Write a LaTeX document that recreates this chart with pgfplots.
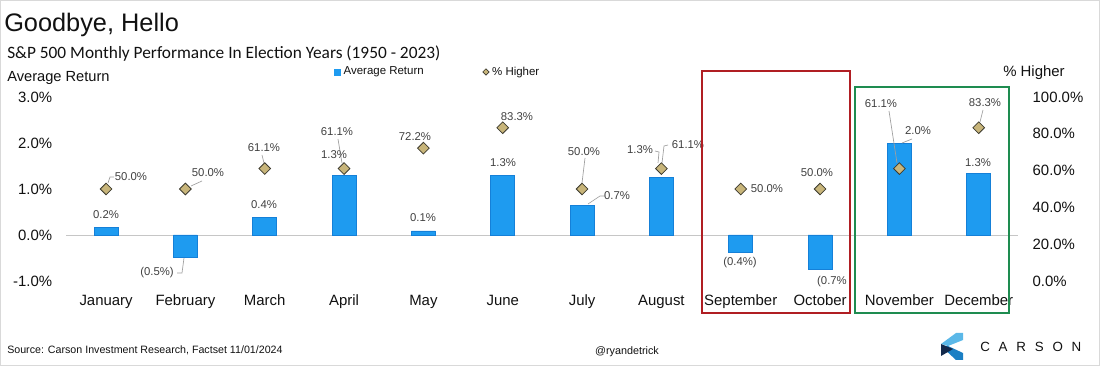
\documentclass[border=0pt]{standalone}
\usepackage{pgfplots}
\pgfplotsset{compat=1.18}
\usepackage{fontspec}
\setmainfont{Liberation Sans}
\newfontfamily\calib{Carlito}
\definecolor{barblue}{HTML}{1E9BF0}
\definecolor{baredge}{HTML}{1580D8}
\definecolor{diamfill}{HTML}{C8B57A}
\definecolor{diamedge}{HTML}{3C3A2E}
\definecolor{lbl}{HTML}{404040}
\definecolor{txt}{HTML}{111111}
\definecolor{redbox}{HTML}{B01E23}
\definecolor{greenbox}{HTML}{1E8C50}
\definecolor{logolight}{HTML}{5BB8E8}
\definecolor{logomid}{HTML}{1A7FC4}
\definecolor{logodark}{HTML}{13294B}
\begin{document}
\begin{tikzpicture}[x=0.75pt,y=-0.75pt,
  lab/.style={font=\fontsize{8.5}{10}\selectfont, text=lbl, inner sep=0pt},
  lead/.style={draw=gray!75, line width=0.5pt}]
\path[use as bounding box] (0,0) rectangle (1100,366);
\draw[gray!30, line width=0.75pt] (0.4,0.4) rectangle (1099.6,365.6);

\begin{axis}[at={(49.8pt,-210.75pt)}, anchor=south west, scale only axis,
  width=714pt, height=138pt,
  xmin=-0.5, xmax=11.5, ymin=-1, ymax=3,
  axis line style={draw=none}, major tick length=0pt,
  xtick={0,...,11},
  xticklabels={January,February,March,April,May,June,July,August,September,October,November,December},
  ytick={-1,0,1,2,3},
  yticklabel={\pgfmathprintnumber[fixed,fixed zerofill,precision=1,assume math mode=true]{\tick}\%},
  tick label style={font=\fontsize{11.2}{13}\selectfont, text=txt, inner sep=0pt},
  yticklabel style={anchor=east, xshift=-10.5pt},
  xticklabel style={anchor=base, yshift=-18.4pt},
  legend style={at={(0.281,1.136)}, anchor=west, draw=none, fill=none, inner sep=0pt,
    font=\fontsize{8.6}{10}\selectfont, text=txt,
    /tikz/every even column/.append style={column sep=42pt}},
  legend columns=2, legend cell align=left,
  clip=false]
\draw[gray!45, line width=0.6pt] (axis cs:-0.5,0) -- (axis cs:11.5,0);
\addplot[ybar, bar width=18pt, bar shift=0pt, fill=barblue, draw=baredge, line width=0.5pt,
  legend image code/.code={\fill[barblue] (0pt,-2.3pt) rectangle (4.6pt,2.3pt);}]
  coordinates {(0,0.17)(1,-0.48)(2,0.39)(3,1.30)(4,0.09)(5,1.30)(6,0.65)(7,1.26)(8,-0.37)(9,-0.74)(10,2.00)(11,1.33)};
\addlegendentry{Average Return}
\addlegendimage{legend image code/.code={\draw[diamedge, fill=diamfill, line width=0.5pt] (0pt,0pt)--(2.4pt,2.4pt)--(4.8pt,0pt)--(2.4pt,-2.4pt)--cycle;}}
\addlegendentry{\% Higher}
\end{axis}

\begin{axis}[at={(49.8pt,-210.75pt)}, anchor=south west, scale only axis,
  width=714pt, height=138pt,
  xmin=-0.5, xmax=11.5, ymin=0, ymax=100,
  axis line style={draw=none}, major tick length=0pt,
  xtick=\empty, ytick={0,20,...,100}, yticklabel pos=right,
  yticklabel={\pgfmathprintnumber[fixed,fixed zerofill,precision=1,assume math mode=true]{\tick}\%},
  tick label style={font=\fontsize{11.2}{13}\selectfont, text=txt, inner sep=0pt},
  yticklabel style={anchor=west, xshift=10.5pt},
  clip=false]
\addplot[only marks, mark=square*, mark size=3.1pt,
  mark options={rotate=45, fill=diamfill, draw=diamedge, line width=0.6pt}]
  coordinates {(0,50.0)(1,50.0)(2,61.1)(3,61.1)(4,72.2)(5,83.3)(6,50.0)(7,61.1)(8,50.0)(9,50.0)(10,61.1)(11,83.3)};
\end{axis}

% leader lines
\draw[lead] (108,183)--(110,177)--(114,177);
\draw[lead] (184,258)--(182,273)--(177,273);
\draw[lead] (191,186)--(202,181);
\draw[lead] (262,155)--(264,163);
\draw[lead] (338,139)--(342,163);
\draw[lead] (585,158)--(582,183);
\draw[lead] (588,204)--(600,196)--(605,196);
\draw[lead] (658,163)--(659,152)--(655,151);
\draw[lead] (662,163)--(664,146)--(668,145);
\draw[lead] (889,111)--(897,163);
\draw[lead] (902,143)--(912,139);
\draw[lead] (983,110)--(980,122);

% data labels
\node[lab] at (106,215) {0.2\%};
\node[lab] at (131,177) {50.0\%};
\node[lab] at (157,273) {(0.5\%)};
\node[lab] at (208,173) {50.0\%};
\node[lab] at (264,205) {0.4\%};
\node[lab] at (264,148) {61.1\%};
\node[lab] at (337,132) {61.1\%};
\node[lab] at (334,155) {1.3\%};
\node[lab] at (415,137) {72.2\%};
\node[lab] at (423,218) {0.1\%};
\node[lab] at (517,117) {83.3\%};
\node[lab] at (503,163) {1.3\%};
\node[lab] at (584,152) {50.0\%};
\node[lab] at (617,196) {0.7\%};
\node[lab] at (640,150) {1.3\%};
\node[lab] at (688,145) {61.1\%};
\node[lab] at (767,189) {50.0\%};
\node[lab] at (740,263) {(0.4\%)};
\node[lab] at (817,173) {50.0\%};
\node[lab] at (832,282) {(0.7\%};
\node[lab] at (881,104) {61.1\%};
\node[lab] at (918,131) {2.0\%};
\node[lab] at (985,103) {83.3\%};
\node[lab] at (978,163) {1.3\%};

% highlight boxes
\draw[redbox, line width=1.9pt] (702,71) rectangle (850,313);
\draw[greenbox, line width=1.9pt] (855,87) rectangle (1009,313);

% titles
\node[anchor=base west, inner sep=0pt, font=\fontsize{19}{21}\selectfont, text=txt] at (4,32) {Goodbye, Hello};
\node[anchor=base west, inner sep=0pt, font=\calib\fontsize{13}{15}\selectfont, text=txt] at (7,59) {S\&P 500 Monthly Performance In Election Years (1950 - 2023)};
\node[anchor=base west, inner sep=0pt, font=\fontsize{11}{13}\selectfont, text=txt] at (7,82) {Average\hspace{3pt}Return};
\node[anchor=base west, inner sep=0pt, font=\fontsize{11.2}{13}\selectfont, text=txt] at (1003,77) {\% Higher};

% footer
\node[anchor=west, inner sep=0pt, font=\fontsize{8}{9}\selectfont, text=txt] at (7,350) {Source: Carson Investment Research, Factset 11/01/2024};
\node[anchor=center, inner sep=0pt, font=\fontsize{8.1}{9}\selectfont, text=txt] at (627,352) {@ryandetrick};
\fill[logolight] (956,333)--(963,333)--(963,340)--(948,346)--(941,344)--cycle;
\fill[logomid] (941,346)--(948,346)--(963,353)--(963,360)--(956,360)--cycle;
\fill[logodark] (941,344)--(953,349)--(941,356)--cycle;
\node[anchor=west, inner sep=0pt, font=\fontsize{10}{11}\selectfont, text=txt] at (980,347) {C\hspace{6.6pt}A\hspace{6.6pt}R\hspace{6.6pt}S\hspace{6.6pt}O\hspace{6.6pt}N};
\end{tikzpicture}
\end{document}
